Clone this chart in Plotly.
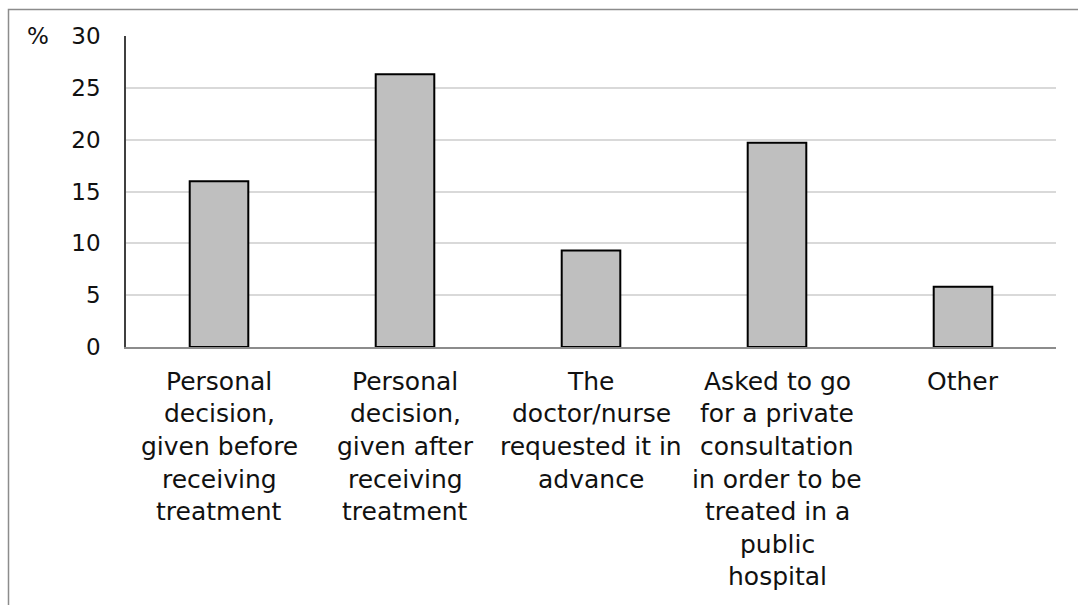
import plotly.graph_objects as go

categories = [
    "Personal<br>decision,<br>given before<br>receiving<br>treatment",
    "Personal<br>decision,<br>given after<br>receiving<br>treatment",
    "The<br>doctor/nurse<br>requested it in<br>advance",
    "Asked to go<br>for a private<br>consultation<br>in order to be<br>treated in a<br>public<br>hospital",
    "Other",
]
values = [16.0, 26.3, 9.3, 19.7, 5.8]
y_ticks = [0, 5, 10, 15, 20, 25, 30]

FONT = "DejaVu Sans"
W, H = 1078, 605
L, R, T, B = 126, 22, 36, 257.5
pw, ph = W - L - R, H - T - B

fig = go.Figure(go.Bar(
    x=categories, y=values,
    marker=dict(color="#bfbfbf", line=dict(color="black", width=2)),
    width=0.315,
))

annotations = []
for cat in categories:
    for i, line in enumerate(cat.split("<br>")):
        annotations.append(dict(
            x=cat, y=0, xref="x", yref="paper", text=line, showarrow=False,
            yanchor="middle", xanchor="center", yshift=-34.2 - 32.6 * i,
            font=dict(family=FONT, size=25, color="#111"),
        ))
annotations.append(dict(
    x=(38 - L) / pw, y=1, xref="paper", yref="paper", text="%", showarrow=False,
    xanchor="center", yanchor="middle", font=dict(family=FONT, size=23, color="#111"),
))

fig.update_layout(
    width=W, height=H,
    margin=dict(l=L, r=R, t=T, b=B),
    paper_bgcolor="white", plot_bgcolor="white",
    showlegend=False,
    annotations=annotations,
    shapes=[dict(
        type="rect", xref="paper", yref="paper",
        x0=(8.5 - L) / pw, x1=1.2, y0=-1.0, y1=1 + (T - 9.5) / ph,
        line=dict(color="#8c8c8c", width=1.5), fillcolor="rgba(0,0,0,0)", layer="below",
    )],
    xaxis=dict(
        showticklabels=False, ticks="", showgrid=False,
        showline=True, linecolor="#8c8c8c", linewidth=1.5,
        range=[-0.5, 4.5], fixedrange=True,
    ),
    yaxis=dict(
        range=[0, 30], tickvals=y_ticks, ticks="",
        showgrid=True, gridcolor="#d9d9d9", gridwidth=1.5,
        showline=True, linecolor="#404040", linewidth=1.5,
        zeroline=False, ticklabelstandoff=19,
        tickfont=dict(family=FONT, size=23, color="#111"),
    ),
)

fig.write_html("out.html")
